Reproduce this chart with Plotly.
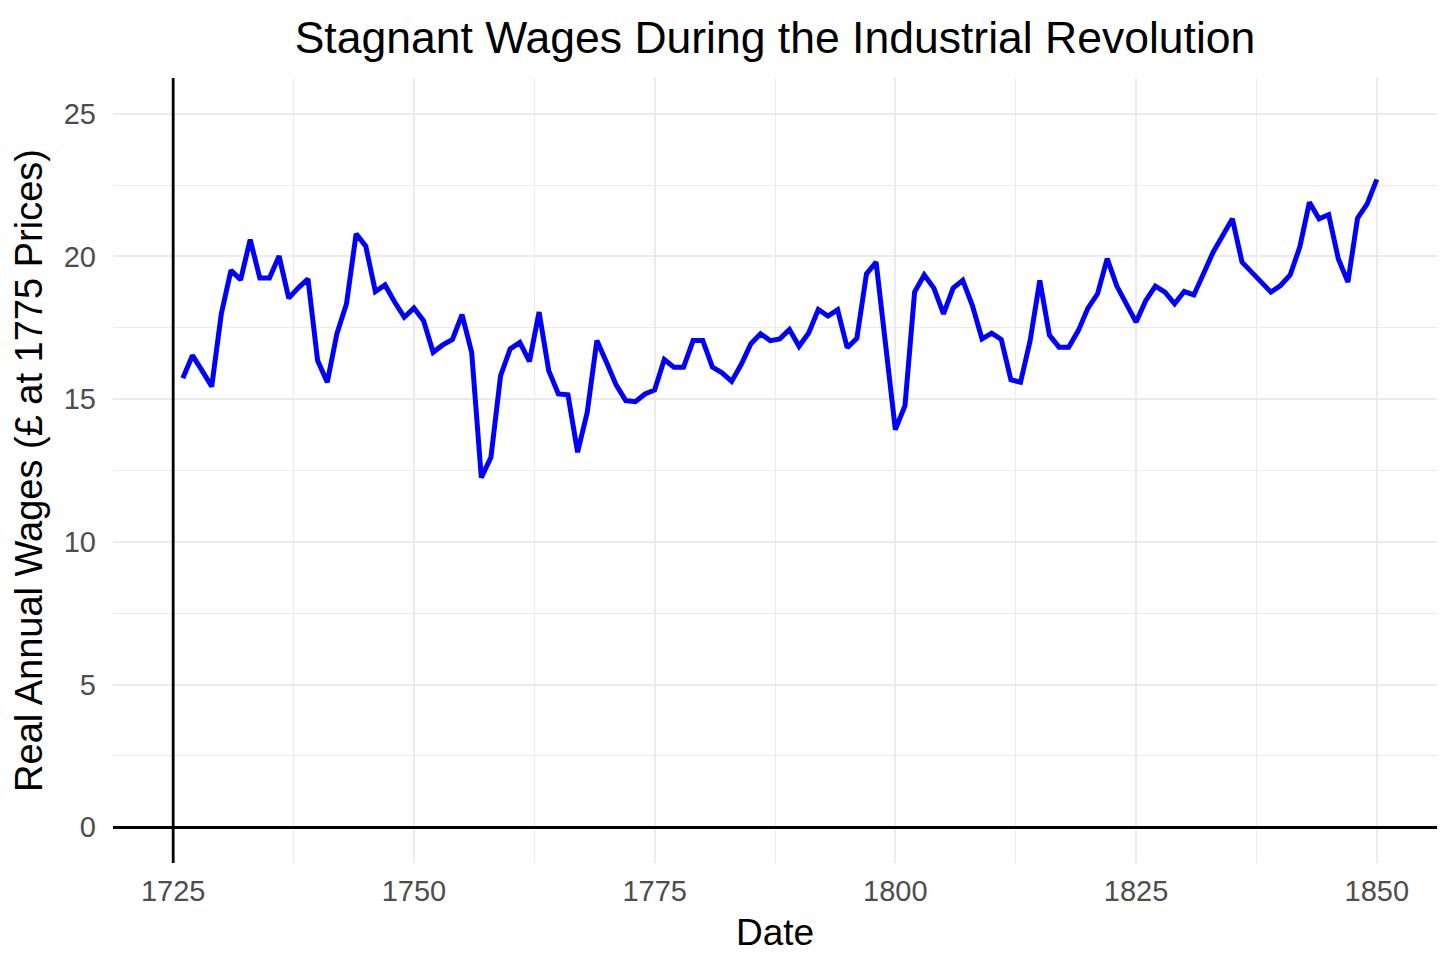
import plotly.graph_objects as go

years = list(range(1726, 1851))
wages = [
    15.73, 16.53, 16.00, 15.44, 17.99, 19.51, 19.18, 20.59, 19.24, 19.24,  # 1726-1735
    20.01, 18.54, 18.90, 19.21, 16.35, 15.59, 17.29, 18.34, 20.79, 20.36,  # 1736-1745
    18.77, 19.00, 18.40, 17.87, 18.19, 17.75, 16.64, 16.90, 17.09, 17.96,  # 1746-1755
    16.64, 12.25, 12.96, 15.82, 16.76, 16.99, 16.32, 18.05, 16.00, 15.18,  # 1756-1765
    15.15, 13.14, 14.54, 17.05, 16.29, 15.50, 14.95, 14.91, 15.18, 15.32,  # 1766-1775
    16.39, 16.12, 16.12, 17.05, 17.05, 16.12, 15.92, 15.62, 16.22, 16.94,  # 1776-1785
    17.29, 17.05, 17.11, 17.44, 16.85, 17.32, 18.14, 17.91, 18.13, 16.80,  # 1786-1795
    17.13, 19.39, 19.80, 17.00, 13.93, 14.77, 18.75, 19.35, 18.89, 17.99,  # 1796-1805
    18.89, 19.16, 18.28, 17.11, 17.31, 17.09, 15.68, 15.59, 17.05, 19.16,  # 1806-1815
    17.24, 16.82, 16.82, 17.40, 18.19, 18.69, 19.92, 18.96, 18.34, 17.70,  # 1816-1825
    18.45, 18.96, 18.75, 18.34, 18.77, 18.65, 19.39, 20.15, 20.73, 21.32,  # 1826-1835
    19.80, 19.45, 19.10, 18.75, 18.98, 19.35, 20.33, 21.90, 21.32, 21.46,  # 1836-1845
    19.92, 19.10, 21.34, 21.84, 22.70,                                      # 1846-1850
]

x_ticks = [1725, 1750, 1775, 1800, 1825, 1850]
y_ticks = [0, 5, 10, 15, 20, 25]
REF_YEAR = 1725
x_range = [1718.75, 1856.25]
y_range = [-1.25, 26.25]

TITLE = "Stagnant Wages During the Industrial Revolution"
X_TITLE = "Date"
Y_TITLE = "Real Annual Wages (£ at 1775 Prices)"

FONT = "Liberation Sans, Arial, sans-serif"
GRID = "#EBEBEB"

# the page body has an 8px margin, so the figure is drawn 8px smaller
W, H = 1448, 963

fig = go.Figure()
fig.add_trace(go.Scatter(
    x=years, y=wages, mode="lines",
    line=dict(color="#0000FF", width=5),
    hoverinfo="x+y", showlegend=False,
))

fig.add_vline(x=REF_YEAR, line=dict(color="black", width=2.8), layer="above")

fig.update_layout(
    width=W, height=H,
    autosize=False,
    paper_bgcolor="white", plot_bgcolor="white",
    margin=dict(l=105, r=19, t=70, b=108, autoexpand=False),
    font=dict(family=FONT, color="black"),
    title=dict(
        text=TITLE, x=0.5, xref="paper", xanchor="center",
        y=1 - 29 / H, yref="container", yanchor="middle",
        font=dict(size=44.5, color="black", family=FONT),
    ),
    xaxis=dict(
        range=x_range, tickmode="array", tickvals=x_ticks,
        ticktext=[str(v) for v in x_ticks],
        showgrid=True, gridcolor=GRID, gridwidth=2,
        minor=dict(dtick=12.5, tick0=1725, showgrid=True, gridcolor=GRID, gridwidth=1.2),
        zeroline=False, showline=False, ticks="",
        ticklabelstandoff=8,
        tickfont=dict(size=29, color="#4D4D4D", family=FONT),
        title=dict(text=X_TITLE, standoff=13, font=dict(size=37, color="black", family=FONT)),
    ),
    yaxis=dict(
        range=y_range, tickmode="array", tickvals=y_ticks,
        ticktext=[str(v) for v in y_ticks],
        showgrid=True, gridcolor=GRID, gridwidth=2,
        minor=dict(dtick=2.5, tick0=0, showgrid=True, gridcolor=GRID, gridwidth=1.2),
        zeroline=True, zerolinecolor="black", zerolinewidth=2.8,
        showline=False, ticks="",
        ticklabelstandoff=16,
        tickfont=dict(size=29, color="#4D4D4D", family=FONT),
        title=dict(text=Y_TITLE, standoff=21, font=dict(size=38, color="black", family=FONT)),
    ),
)

fig.write_html("out.html")
